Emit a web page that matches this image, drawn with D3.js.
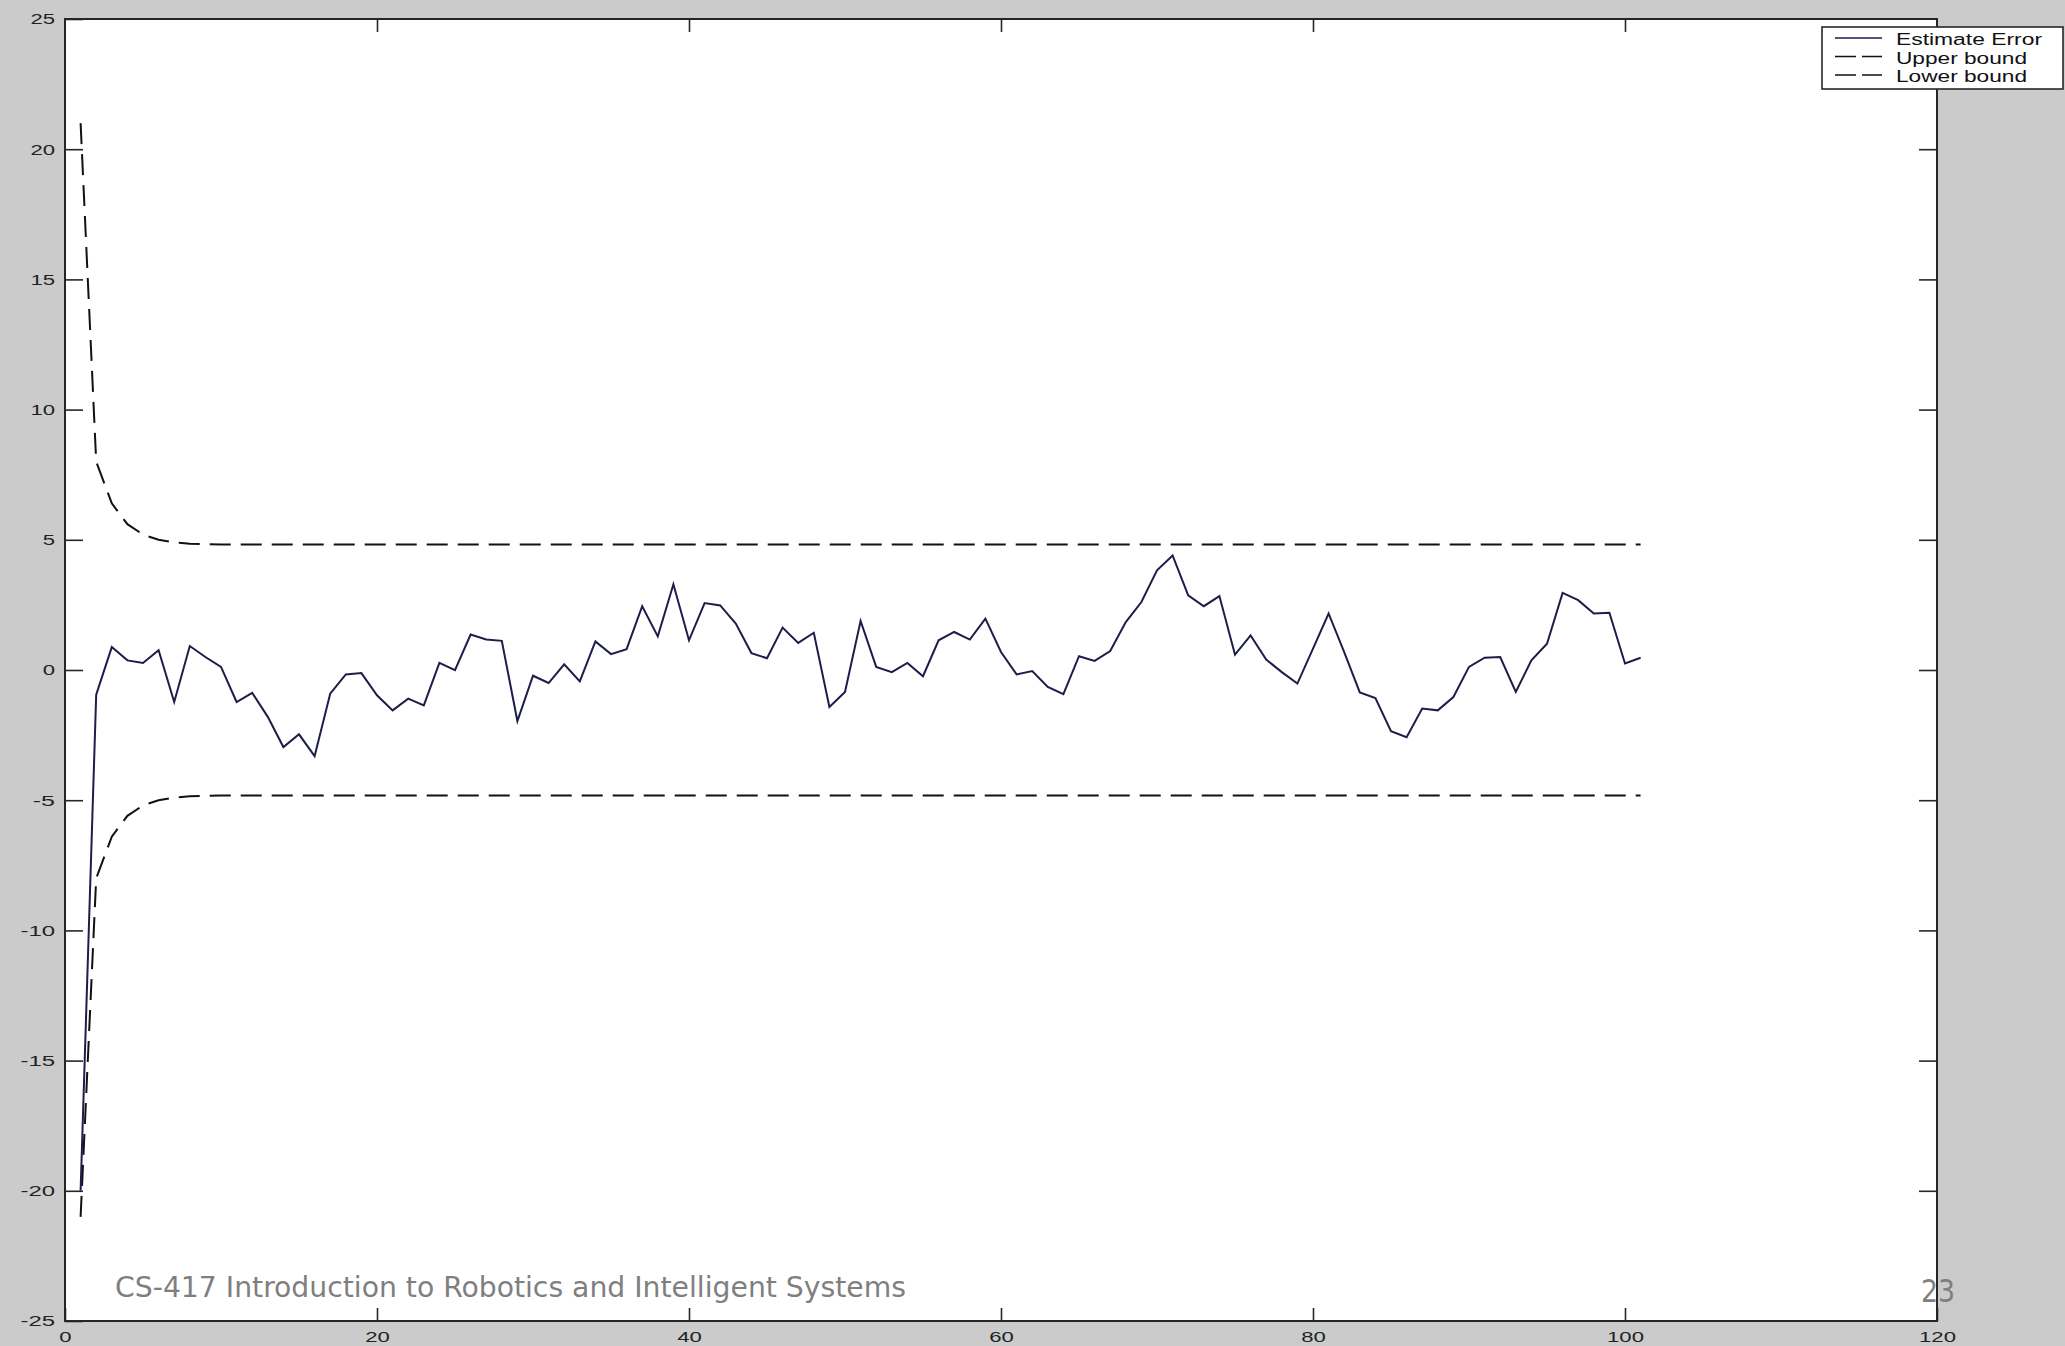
<!DOCTYPE html>
<html>
<head>
<meta charset="utf-8">
<script src="https://cdn.jsdelivr.net/npm/d3@7"></script>
<style>
  html, body { margin: 0; padding: 0; background: #cbcbcb; }
  svg { display: block; }
</style>
</head>
<body>
<svg id="chart" width="2065" height="1346"></svg>
<script>
// ---------------- DATA ----------------
const xTickValues = [0, 20, 40, 60, 80, 100, 120];
const yTickValues = [-25, -20, -15, -10, -5, 0, 5, 10, 15, 20, 25];

const steps = [1,2,3,4,5,6,7,8,9,10,11,12,13,14,15,16,17,18,19,20,
  21,22,23,24,25,26,27,28,29,30,31,32,33,34,35,36,37,38,39,40,
  41,42,43,44,45,46,47,48,49,50,51,52,53,54,55,56,57,58,59,60,
  61,62,63,64,65,66,67,68,69,70,71,72,73,74,75,76,77,78,79,80,
  81,82,83,84,85,86,87,88,89,90,91,92,93,94,95,96,97,98,99,100,101];

const estimateError = [-20.0, -0.95, 0.88, 0.37, 0.27, 0.76, -1.23, 0.92, 0.50, 0.12,
  -1.23, -0.88, -1.80, -2.96, -2.47, -3.31, -0.91, -0.17, -0.12, -0.97,
  -1.55, -1.10, -1.36, 0.27, -0.01, 1.36, 1.17, 1.12, -1.96, -0.22,
  -0.50, 0.22, -0.44, 1.10, 0.61, 0.80, 2.45, 1.29, 3.29, 1.14,
  2.57, 2.48, 1.78, 0.65, 0.45, 1.63, 1.04, 1.43, -1.42, -0.84,
  1.88, 0.12, -0.08, 0.27, -0.24, 1.14, 1.46, 1.17, 1.97, 0.69,
  -0.17, -0.04, -0.65, -0.93, 0.53, 0.35, 0.73, 1.84, 2.61, 3.83,
  4.40, 2.87, 2.45, 2.84, 0.59, 1.33, 0.40, -0.08, -0.52, 0.82,
  2.17, 0.69, -0.86, -1.08, -2.35, -2.58, -1.48, -1.55, -1.04, 0.12,
  0.47, 0.50, -0.84, 0.37, 1.01, 2.96, 2.68, 2.17, 2.20, 0.25, 0.47];

const upperBound = [21.0, 8.0, 6.4, 5.6, 5.2, 5.0, 4.9, 4.85, 4.83, 4.82,
  4.82, 4.82, 4.82, 4.82, 4.82, 4.82, 4.82, 4.82, 4.82, 4.82,
  4.82, 4.82, 4.82, 4.82, 4.82, 4.82, 4.82, 4.82, 4.82, 4.82,
  4.82, 4.82, 4.82, 4.82, 4.82, 4.82, 4.82, 4.82, 4.82, 4.82,
  4.82, 4.82, 4.82, 4.82, 4.82, 4.82, 4.82, 4.82, 4.82, 4.82,
  4.82, 4.82, 4.82, 4.82, 4.82, 4.82, 4.82, 4.82, 4.82, 4.82,
  4.82, 4.82, 4.82, 4.82, 4.82, 4.82, 4.82, 4.82, 4.82, 4.82,
  4.82, 4.82, 4.82, 4.82, 4.82, 4.82, 4.82, 4.82, 4.82, 4.82,
  4.82, 4.82, 4.82, 4.82, 4.82, 4.82, 4.82, 4.82, 4.82, 4.82,
  4.82, 4.82, 4.82, 4.82, 4.82, 4.82, 4.82, 4.82, 4.82, 4.82, 4.82];

const lowerBound = [-21.0, -8.0, -6.4, -5.6, -5.2, -5.0, -4.9, -4.85, -4.83, -4.82,
  -4.82, -4.82, -4.82, -4.82, -4.82, -4.82, -4.82, -4.82, -4.82, -4.82,
  -4.82, -4.82, -4.82, -4.82, -4.82, -4.82, -4.82, -4.82, -4.82, -4.82,
  -4.82, -4.82, -4.82, -4.82, -4.82, -4.82, -4.82, -4.82, -4.82, -4.82,
  -4.82, -4.82, -4.82, -4.82, -4.82, -4.82, -4.82, -4.82, -4.82, -4.82,
  -4.82, -4.82, -4.82, -4.82, -4.82, -4.82, -4.82, -4.82, -4.82, -4.82,
  -4.82, -4.82, -4.82, -4.82, -4.82, -4.82, -4.82, -4.82, -4.82, -4.82,
  -4.82, -4.82, -4.82, -4.82, -4.82, -4.82, -4.82, -4.82, -4.82, -4.82,
  -4.82, -4.82, -4.82, -4.82, -4.82, -4.82, -4.82, -4.82, -4.82, -4.82,
  -4.82, -4.82, -4.82, -4.82, -4.82, -4.82, -4.82, -4.82, -4.82, -4.82, -4.82];

const legendLabels = ["Estimate Error", "Upper bound", "Lower bound"];
const footerText = "CS-417 Introduction to Robotics and Intelligent Systems";
const pageNumber = "23";

// ---------------- LAYOUT ----------------
const plot = { left: 65, right: 1937, top: 19, bottom: 1321 };
const svg = d3.select("#chart");

const x = d3.scaleLinear().domain([0, 120]).range([plot.left, plot.right]);
const y = d3.scaleLinear().domain([-25, 25]).range([plot.bottom, plot.top]);

// plot background
svg.append("rect")
  .attr("x", plot.left).attr("y", plot.top)
  .attr("width", plot.right - plot.left).attr("height", plot.bottom - plot.top)
  .attr("fill", "#ffffff");

const axisColor = "#262626";
const labelFont = "'Liberation Sans', Arial, sans-serif";
const plainFormat = d => String(d);

function styleAxis(g, showLabels) {
  g.select(".domain").remove();
  g.selectAll(".tick line").attr("stroke", axisColor).attr("stroke-width", 1.6);
  if (!showLabels) g.selectAll(".tick text").remove();
  else g.selectAll(".tick text")
    .attr("fill", "#222")
    .style("font-family", labelFont)
    .style("font-size", "15px")
    .attr("lengthAdjust", "spacingAndGlyphs")
    .attr("textLength", function() {
      const t = d3.select(this).text();
      let w = 0;
      for (const c of t) w += (c === "-") ? 10 : 12.3;
      return w;
    });
}

const yTickLen = 18, xTickLen = 13;

// left axis (ticks inward)
svg.append("g").attr("transform", `translate(${plot.left},0)`)
  .call(d3.axisLeft(y).tickValues(yTickValues).tickFormat(plainFormat)
        .tickSizeInner(-yTickLen).tickSizeOuter(0).tickPadding(10))
  .call(g => styleAxis(g, true));

// right axis (ticks inward, no labels)
svg.append("g").attr("transform", `translate(${plot.right},0)`)
  .call(d3.axisRight(y).tickValues(yTickValues.slice(1, -1)).tickSizeInner(-yTickLen).tickSizeOuter(0))
  .call(g => styleAxis(g, false));

// bottom axis
svg.append("g").attr("transform", `translate(0,${plot.bottom})`)
  .call(d3.axisBottom(x).tickValues(xTickValues).tickFormat(plainFormat)
        .tickSizeInner(-xTickLen).tickSizeOuter(0).tickPadding(10))
  .call(g => styleAxis(g, true));

// top axis
svg.append("g").attr("transform", `translate(0,${plot.top})`)
  .call(d3.axisTop(x).tickValues(xTickValues.slice(1, -1)).tickSizeInner(-xTickLen).tickSizeOuter(0))
  .call(g => styleAxis(g, false));

// frame
svg.append("rect")
  .attr("x", plot.left).attr("y", plot.top)
  .attr("width", plot.right - plot.left).attr("height", plot.bottom - plot.top)
  .attr("fill", "none").attr("stroke", axisColor).attr("stroke-width", 2);

// ---------------- SERIES ----------------
const line = d3.line().x((d, i) => x(steps[i])).y(d => y(d));

const errColor = "#1d1d4a";
svg.append("path").datum(upperBound)
  .attr("d", line).attr("fill", "none")
  .attr("stroke", "#111").attr("stroke-width", 2)
  .attr("stroke-dasharray", "21,10");
svg.append("path").datum(lowerBound)
  .attr("d", line).attr("fill", "none")
  .attr("stroke", "#111").attr("stroke-width", 2)
  .attr("stroke-dasharray", "21,10");
svg.append("path").datum(estimateError)
  .attr("d", line).attr("fill", "none")
  .attr("stroke", errColor).attr("stroke-width", 2)
  .attr("stroke-linejoin", "miter");

// ---------------- LEGEND ----------------
const leg = svg.append("g");
leg.append("rect")
  .attr("x", 1822).attr("y", 27).attr("width", 241).attr("height", 62)
  .attr("fill", "#ffffff").attr("stroke", axisColor).attr("stroke-width", 1.6);

const legStyles = [
  { color: errColor, dash: null },
  { color: "#111", dash: "21,6" },
  { color: "#111", dash: "21,6" }
];
const legWidths = [146, 131, 131];
legendLabels.forEach((lab, i) => {
  const base = 45 + i * 18.5;
  leg.append("line")
    .attr("x1", 1835).attr("x2", 1882)
    .attr("y1", base - 7).attr("y2", base - 7)
    .attr("stroke", legStyles[i].color).attr("stroke-width", 1.6)
    .attr("stroke-dasharray", legStyles[i].dash);
  leg.append("text")
    .attr("x", 1896).attr("y", base)
    .attr("fill", "#111")
    .style("font-family", labelFont)
    .style("font-size", "16px")
    .attr("lengthAdjust", "spacingAndGlyphs")
    .attr("textLength", legWidths[i])
    .text(lab);
});

// ---------------- FOOTER ----------------
svg.append("text")
  .attr("x", 115).attr("y", 1297)
  .attr("fill", "#7f7f7f")
  .style("font-family", "'DejaVu Sans', sans-serif")
  .style("font-stretch", "condensed")
  .style("font-size", "28px")
  .attr("lengthAdjust", "spacingAndGlyphs")
  .attr("textLength", 791)
  .text(footerText);

svg.append("text")
  .attr("x", 1921).attr("y", 1302)
  .attr("fill", "#7f7f7f")
  .style("font-family", "'DejaVu Sans', sans-serif")
  .style("font-stretch", "condensed")
  .style("font-size", "32px")
  .attr("lengthAdjust", "spacingAndGlyphs")
  .attr("textLength", 34)
  .text(pageNumber);
</script>
</body>
</html>
